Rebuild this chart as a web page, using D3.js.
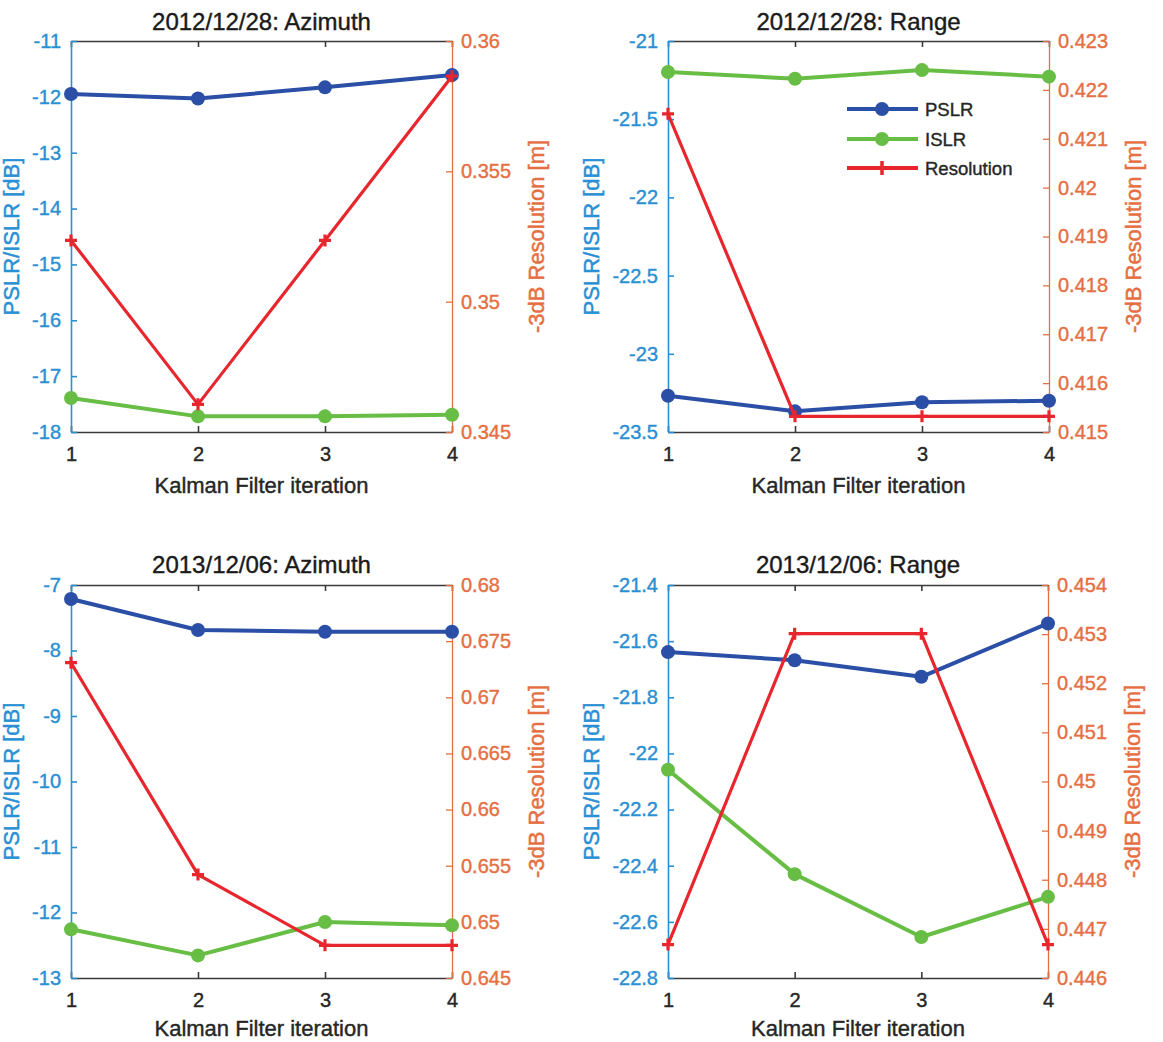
<!DOCTYPE html>
<html>
<head>
<meta charset="utf-8">
<script src="https://cdn.jsdelivr.net/npm/d3@7"></script>
<style>
  html, body { margin: 0; padding: 0; background: #fff; }
  svg { display: block; font-family: "Liberation Sans", Arial, Helvetica, sans-serif; }
</style>
</head>
<body>
<svg id="chart" width="1163" height="1042"></svg>
<script>
// ---------------- DATA ----------------
const iterations = [1, 2, 3, 4];
const xTickLabels = ["1", "2", "3", "4"];
const seriesNames = ["PSLR", "ISLR", "Resolution"];
const panelTitles = ["2012/12/28: Azimuth", "2012/12/28: Range", "2013/12/06: Azimuth", "2013/12/06: Range"];
const xLabelText = "Kalman Filter iteration";
const leftLabelText = "PSLR/ISLR [dB]";
const rightLabelText = "-3dB Resolution [m]";

// 2012/12/28 Azimuth
const pslrAz2012 = [-11.95, -12.03, -11.83, -11.61];
const islrAz2012 = [-17.39, -17.72, -17.72, -17.69];
const resAz2012  = [0.35235, 0.34606, 0.35235, 0.35865];
const leftTicksAz2012  = [-18, -17, -16, -15, -14, -13, -12, -11];
const rightTicksAz2012 = [0.345, 0.35, 0.355, 0.36];

// 2012/12/28 Range
const pslrRg2012 = [-23.268, -23.368, -23.31, -23.30];
const islrRg2012 = [-21.198, -21.241, -21.186, -21.228];
const resRg2012  = [0.42151, 0.41532, 0.41532, 0.41532];
const leftTicksRg2012  = [-23.5, -23, -22.5, -22, -21.5, -21];
const rightTicksRg2012 = [0.415, 0.416, 0.417, 0.418, 0.419, 0.42, 0.421, 0.422, 0.423];

// 2013/12/06 Azimuth
const pslrAz2013 = [-7.214, -7.688, -7.713, -7.713];
const islrAz2013 = [-12.257, -12.655, -12.145, -12.196];
const resAz2013  = [0.67308, 0.65421, 0.64791, 0.64791];
const leftTicksAz2013  = [-13, -12, -11, -10, -9, -8, -7];
const rightTicksAz2013 = [0.645, 0.65, 0.655, 0.66, 0.665, 0.67, 0.675, 0.68];

// 2013/12/06 Range
const pslrRg2013 = [-21.639, -21.668, -21.727, -21.537];
const islrRg2013 = [-22.058, -22.43, -22.654, -22.511];
const resRg2013  = [0.44668, 0.45301, 0.45301, 0.44668];
const leftTicksRg2013  = [-22.8, -22.6, -22.4, -22.2, -22, -21.8, -21.6, -21.4];
const rightTicksRg2013 = [0.446, 0.447, 0.448, 0.449, 0.45, 0.451, 0.452, 0.453, 0.454];

// ---------------- STYLE / LAYOUT ----------------
const colPSLR = "#2b4fa6";
const colISLR = "#68be45";
const colRes  = "#e8262d";
const colLeftAxis  = "#2a8fd3";
const colRightAxis = "#e56f43";
const colBox = "#3a3a3a";

const panels = [
  { title: panelTitles[0], pslr: pslrAz2012, islr: islrAz2012, res: resAz2012, lt: leftTicksAz2012, rt: rightTicksAz2012,
    box: { l: 71, r: 452, t: 41, b: 432 }, titleY: 30, xlabY: 493, legend: false },
  { title: panelTitles[1], pslr: pslrRg2012, islr: islrRg2012, res: resRg2012, lt: leftTicksRg2012, rt: rightTicksRg2012,
    box: { l: 668, r: 1049, t: 41, b: 432 }, titleY: 30, xlabY: 493, legend: true },
  { title: panelTitles[2], pslr: pslrAz2013, islr: islrAz2013, res: resAz2013, lt: leftTicksAz2013, rt: rightTicksAz2013,
    box: { l: 71, r: 452, t: 585, b: 978 }, titleY: 573, xlabY: 1036, legend: false },
  { title: panelTitles[3], pslr: pslrRg2013, islr: islrRg2013, res: resRg2013, lt: leftTicksRg2013, rt: rightTicksRg2013,
    box: { l: 668, r: 1048, t: 585, b: 978 }, titleY: 573, xlabY: 1036, legend: false }
];

const fmt = v => String(+v.toFixed(4));
const svg = d3.select("#chart");

function heavy(sel, col, w) {
  sel.attr("stroke", col).attr("stroke-width", w).attr("paint-order", "stroke");
}

panels.forEach(p => {
  const B = p.box;
  const g = svg.append("g");
  const x = d3.scaleLinear().domain([1, 4]).range([B.l, B.r]);
  const yL = d3.scaleLinear().domain(d3.extent(p.lt)).range([B.b, B.t]);
  const yR = d3.scaleLinear().domain(d3.extent(p.rt)).range([B.b, B.t]);

  // top box line
  const top = g.append("g").attr("transform", `translate(0,${B.t})`)
    .call(d3.axisTop(x).tickValues(iterations).tickSize(-6).tickSizeOuter(0).tickFormat(""));
  top.selectAll("path, line").attr("stroke", colBox).attr("stroke-width", 1.6);

  // bottom axis
  const bot = g.append("g").attr("transform", `translate(0,${B.b})`)
    .call(d3.axisBottom(x).tickValues(iterations).tickSize(-6).tickSizeOuter(0).tickPadding(15)
      .tickFormat((d, i) => xTickLabels[i]));
  bot.selectAll("path, line").attr("stroke", colBox).attr("stroke-width", 1.6);
  bot.selectAll("text").attr("fill", "#262626").attr("font-size", 20).attr("font-family", null)
    .call(heavy, "#262626", 0.4);

  // left axis
  const la = g.append("g").attr("transform", `translate(${B.l},0)`)
    .call(d3.axisLeft(yL).tickValues(p.lt).tickSize(-6).tickSizeOuter(0).tickPadding(10).tickFormat(fmt));
  la.selectAll("path, line").attr("stroke", colLeftAxis).attr("stroke-width", 1.6);
  la.selectAll("text").attr("fill", colLeftAxis).attr("font-size", 20).attr("font-family", null)
    .call(heavy, colLeftAxis, 0.4);

  // right axis
  const ra = g.append("g").attr("transform", `translate(${B.r},0)`)
    .call(d3.axisRight(yR).tickValues(p.rt).tickSize(-6).tickSizeOuter(0).tickPadding(9).tickFormat(fmt));
  ra.selectAll("path, line").attr("stroke", colRightAxis).attr("stroke-width", 1.3);
  ra.selectAll("text").attr("fill", colRightAxis).attr("font-size", 20).attr("font-family", null)
    .call(heavy, colRightAxis, 0.4);

  g.selectAll(".domain").attr("fill", "none");

  // title
  g.append("text").attr("x", (B.l + B.r) / 2).attr("y", p.titleY)
    .attr("text-anchor", "middle").attr("font-size", 24).attr("fill", "#1a1a1a").text(p.title)
    .call(heavy, "#1a1a1a", 0.4);

  // x label
  g.append("text").attr("x", (B.l + B.r) / 2).attr("y", p.xlabY)
    .attr("text-anchor", "middle").attr("font-size", 22).attr("fill", "#262626").text(xLabelText)
    .call(heavy, "#262626", 0.4);

  // y labels
  const lb = la.node().getBBox();
  const rb = ra.node().getBBox();
  const cy = (B.t + B.b) / 2;
  const lx = B.l + lb.x - 13;
  g.append("text").attr("transform", `translate(${lx},${cy}) rotate(-90)`)
    .attr("text-anchor", "middle").attr("font-size", 22).attr("fill", colLeftAxis).text(leftLabelText)
    .call(heavy, colLeftAxis, 0.5);
  const rx = B.r + rb.x + rb.width + 33;
  g.append("text").attr("transform", `translate(${rx},${cy}) rotate(-90)`)
    .attr("text-anchor", "middle").attr("font-size", 22).attr("fill", colRightAxis).text(rightLabelText)
    .call(heavy, colRightAxis, 0.5);

  // series
  const lineL = d3.line().x((d, i) => x(iterations[i])).y(d => yL(d));
  const lineR = d3.line().x((d, i) => x(iterations[i])).y(d => yR(d));

  [[p.pslr, colPSLR], [p.islr, colISLR]].forEach(([vals, col]) => {
    g.append("path").datum(vals).attr("d", lineL).attr("fill", "none")
      .attr("stroke", col).attr("stroke-width", 4).attr("stroke-linejoin", "round");
    g.selectAll(null).data(vals).enter().append("circle")
      .attr("cx", (d, i) => x(iterations[i])).attr("cy", d => yL(d)).attr("r", 7).attr("fill", col);
  });

  g.append("path").datum(p.res).attr("d", lineR).attr("fill", "none")
    .attr("stroke", colRes).attr("stroke-width", 3.2).attr("stroke-linejoin", "round");
  g.selectAll(null).data(p.res).enter().append("path")
    .attr("transform", (d, i) => `translate(${x(iterations[i])},${yR(d)})`)
    .attr("d", "M-6,0H6M0,-6V6").attr("stroke", colRes).attr("stroke-width", 3.2).attr("fill", "none");

  // legend
  if (p.legend) {
    const lg = g.append("g");
    const rows = [[seriesNames[0], colPSLR, "circle"], [seriesNames[1], colISLR, "circle"], [seriesNames[2], colRes, "plus"]];
    const rowY = [109, 139, 168];
    rows.forEach(([name, col, mk], i) => {
      const yy = rowY[i];
      lg.append("line").attr("x1", 847).attr("x2", 918).attr("y1", yy).attr("y2", yy)
        .attr("stroke", col).attr("stroke-width", 4);
      if (mk === "circle") {
        lg.append("circle").attr("cx", 882).attr("cy", yy).attr("r", 7).attr("fill", col);
      } else {
        lg.append("path").attr("transform", `translate(882,${yy})`).attr("d", "M-6,0H6M0,-7V7")
          .attr("stroke", col).attr("stroke-width", 3.5);
      }
      lg.append("text").attr("x", 925).attr("y", yy).attr("dy", "0.36em")
        .attr("font-size", 18.5).attr("fill", "#262626").text(name)
        .call(heavy, "#262626", 0.4);
    });
  }
});
</script>
</body>
</html>
